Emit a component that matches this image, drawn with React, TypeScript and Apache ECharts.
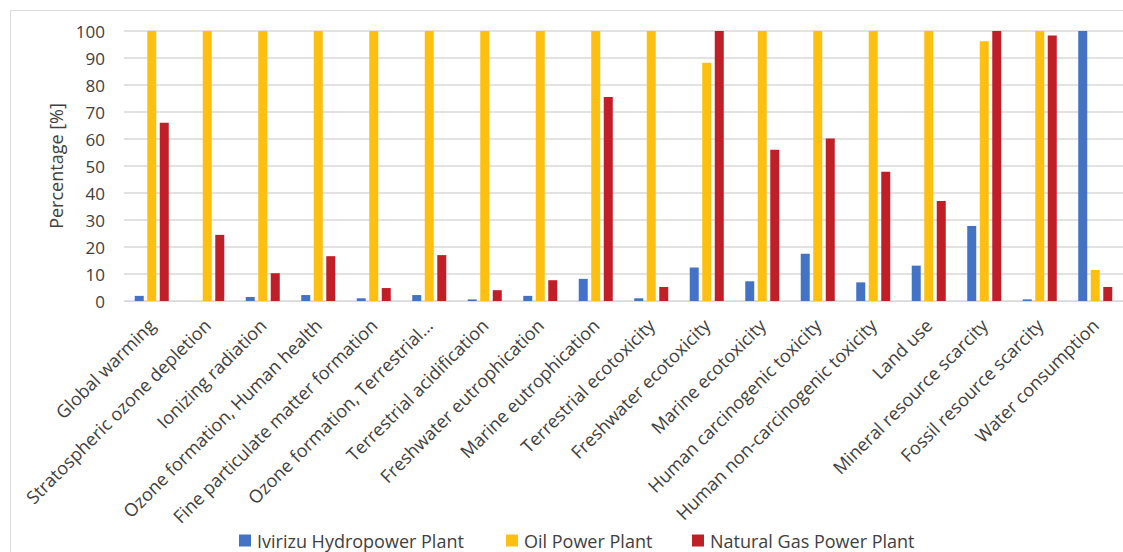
import React, { useEffect, useRef } from "react";
import * as echarts from "echarts";

// Impact categories (ReCiPe midpoint) on the x axis
const categories = [
  "Global warming",
  "Stratospheric ozone depletion",
  "Ionizing radiation",
  "Ozone formation, Human health",
  "Fine particulate matter formation",
  "Ozone formation, Terrestrial...",
  "Terrestrial acidification",
  "Freshwater eutrophication",
  "Marine eutrophication",
  "Terrestrial ecotoxicity",
  "Freshwater ecotoxicity",
  "Marine ecotoxicity",
  "Human carcinogenic toxicity",
  "Human non-carcinogenic toxicity",
  "Land use",
  "Mineral resource scarcity",
  "Fossil resource scarcity",
  "Water consumption",
];

// Relative impact of each plant, % of the largest value per category
const hydroValues = [1.9, 0, 1.5, 2.2, 1.0, 2.2, 0.6, 1.9, 8.2, 1.0, 12.4, 7.3, 17.5, 6.9, 13.1, 27.8, 0.6, 100];
const oilValues = [100, 100, 100, 100, 100, 100, 100, 100, 100, 100, 88.2, 100, 100, 100, 100, 96.2, 100, 11.5];
const gasValues = [66.0, 24.5, 10.3, 16.6, 4.8, 17.0, 4.0, 7.7, 75.6, 5.2, 100, 56.0, 60.2, 47.9, 37.0, 100, 98.3, 5.2];

const seriesNames = ["Ivirizu Hydropower Plant", "Oil Power Plant", "Natural Gas Power Plant"];
const seriesColors = ["#4472C4", "#FDC010", "#C11F27"];

const yTicks = { min: 0, max: 100, interval: 10 };

const FONT = "Open Sans";
const TEXT = "#404040";

export default function App() {
  const ref = useRef<HTMLDivElement>(null);

  useEffect(() => {
    if (!ref.current) return;
    const chart = echarts.init(ref.current, null, { renderer: "svg" });
    const values = [hydroValues, oilValues, gasValues];
    const legendLefts = [239, 506, 692];

    chart.setOption({
      animation: false,
      backgroundColor: "#ffffff",
      textStyle: { fontFamily: FONT },
      graphic: [
        {
          type: "rect",
          shape: { x: 10.5, y: 10.5, width: 1130, height: 560 },
          style: { fill: "none", stroke: "#d9d9d9", lineWidth: 1 },
          silent: true,
        },
      ],
      legend: seriesNames.map((name, i) => ({
        data: [name],
        left: legendLefts[i],
        top: 531,
        padding: 0,
        itemWidth: 12,
        itemHeight: 12,
        itemGap: 0,
        icon: "rect",
        textStyle: {
          fontFamily: FONT,
          fontSize: 18,
          lineHeight: 19,
          color: TEXT,
          padding: [0, 0, 0, 1],
        },
      })),
      grid: { left: 124, right: -7, top: 31, bottom: 251, containLabel: false },
      xAxis: {
        type: "category",
        data: categories,
        axisTick: { show: false },
        axisLine: { lineStyle: { color: "#d9d9d9", width: 1 } },
        axisLabel: {
          rotate: 45,
          interval: 0,
          margin: 21,
          fontFamily: FONT,
          fontSize: 18,
          color: TEXT,
        },
      },
      yAxis: {
        type: "value",
        min: yTicks.min,
        max: yTicks.max,
        interval: yTicks.interval,
        name: "Percentage [%]",
        nameLocation: "middle",
        nameGap: 58,
        nameTextStyle: { fontFamily: FONT, fontSize: 18, color: TEXT },
        axisLine: { show: false },
        axisTick: { show: false },
        splitLine: { lineStyle: { color: "#d9d9d9", width: 1.5 } },
        axisLabel: { fontFamily: FONT, fontSize: 17, color: TEXT, margin: 19 },
      },
      series: seriesNames.map((name, i) => ({
        name,
        type: "bar",
        data: values[i],
        barWidth: 9,
        barGap: "39%",
        itemStyle: { color: seriesColors[i] },
      })),
    });

    return () => chart.dispose();
  }, []);

  return (
    <div
      ref={ref}
      style={{ position: "fixed", left: 0, top: 0, width: 1123, height: 552 }}
    />
  );
}
